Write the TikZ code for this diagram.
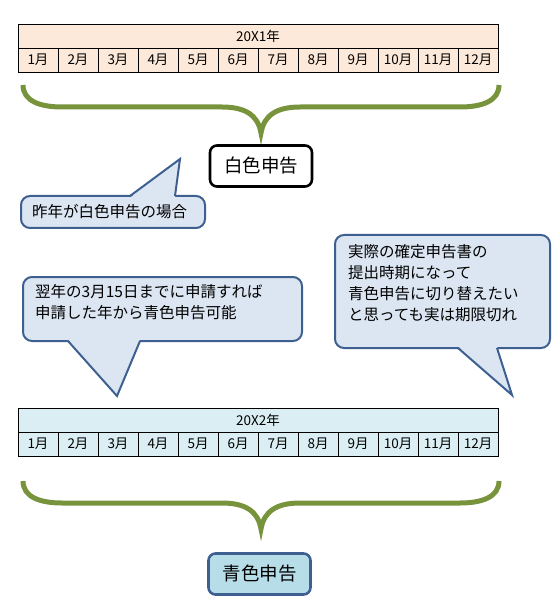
\documentclass[tikz,border=0pt]{standalone}
\usepackage{fontspec}
\setmainfont{Noto Sans CJK JP}
\definecolor{peach}{HTML}{FDE9D9}
\definecolor{paleblue}{HTML}{DAEEF3}
\definecolor{cfill}{HTML}{DCE6F2}
\definecolor{cborder}{HTML}{3E6090}
\definecolor{olive}{HTML}{77933C}
\definecolor{boxblue}{HTML}{B7DDE8}
\begin{document}
\begin{tikzpicture}[x=1pt,y=-1pt,
  cell/.style={draw=black, line width=0.8pt, minimum width=40pt, minimum height=24pt,
    inner sep=0pt, font=\fontsize{13.5}{15}\selectfont},
  callout/.style={draw=cborder, fill=cfill, line width=2pt, rounded corners=9pt, inner sep=0pt},
  ctext/.style={anchor=north west, align=left, inner sep=0pt, font=\fontsize{15.5}{21}\selectfont},
  tailfill/.style={fill=cfill, draw=none},
  tailedge/.style={draw=cborder, line width=2pt, line join=miter},
  brace/.style={draw=olive, line width=5pt},
  label/.style={line width=2.6pt, rounded corners=7pt, minimum width=102pt, minimum height=41pt,
    inner sep=0pt, font=\fontsize{18.5}{20}\selectfont}]
\useasboundingbox (0,0) rectangle (558,601);

% ---- table 20X1
\node[cell, fill=peach, minimum width=480pt] (y1) at (258,36) {20X1年};
\foreach \m in {1,...,12} \node[cell, fill=peach] (a\m) at ({40*\m-2},60) {\m 月};

% ---- brace 1
\draw[brace] (23,85) .. controls (23,101) and (40,107) .. (62,107) -- (222,107)
  .. controls (245,107) and (258,115) .. (261,133)
  .. controls (264,115) and (277,107) .. (300,107) -- (460,107)
  .. controls (482,107) and (499,101) .. (499,85);

% ---- white label
\node[label, draw=black, fill=white] (w) at (261,166) {白色申告};

% ---- callout 1
\node[callout, minimum width=184pt, minimum height=32pt] (c1) at (113,212) {};
\coordinate (t1) at (180,159);
\fill[tailfill] (130,197.6) -- (t1) -- (175,197.6) -- cycle;
\draw[tailedge] (130,196) -- (t1) -- (175,196);
\node[ctext, anchor=west] (c1t) at (32,212) {昨年が白色申告の場合};

% ---- callout 2
\node[callout, minimum width=279pt, minimum height=64pt] (c2) at (162.5,309) {};
\coordinate (t2) at (117,396);
\fill[tailfill] (68,339.4) -- (t2) -- (140,339.4) -- cycle;
\draw[tailedge] (68,341) -- (t2) -- (140,341);
\node[ctext] (c2t) at (35,284) {翌年の3月15日までに申請すれば\\申請した年から青色申告可能};

% ---- callout 3
\node[callout, minimum width=215pt, minimum height=113pt] (c3) at (442.5,291.5) {};
\coordinate (t3) at (512,395);
\fill[tailfill] (458,346.4) -- (t3) -- (497,346.4) -- cycle;
\draw[tailedge] (458,348) -- (t3) -- (497,348);
\node[ctext] (c3t) at (348,244) {実際の確定申告書の\\提出時期になって\\青色申告に切り替えたい\\と思っても実は期限切れ};

% ---- table 20X2
\node[cell, fill=paleblue, minimum width=480pt] (y2) at (258,420) {20X2年};
\foreach \m in {1,...,12} \node[cell, fill=paleblue] (b\m) at ({40*\m-2},444) {\m 月};

% ---- brace 2
\draw[brace] (23,481) .. controls (23,497) and (40,503) .. (62,503) -- (222,503)
  .. controls (245,503) and (258,511) .. (261,529)
  .. controls (264,511) and (277,503) .. (300,503) -- (460,503)
  .. controls (482,503) and (499,497) .. (499,481);

% ---- blue label
\node[label, draw=cborder, fill=boxblue] (bl) at (259.5,574) {青色申告};
\end{tikzpicture}
\end{document}
